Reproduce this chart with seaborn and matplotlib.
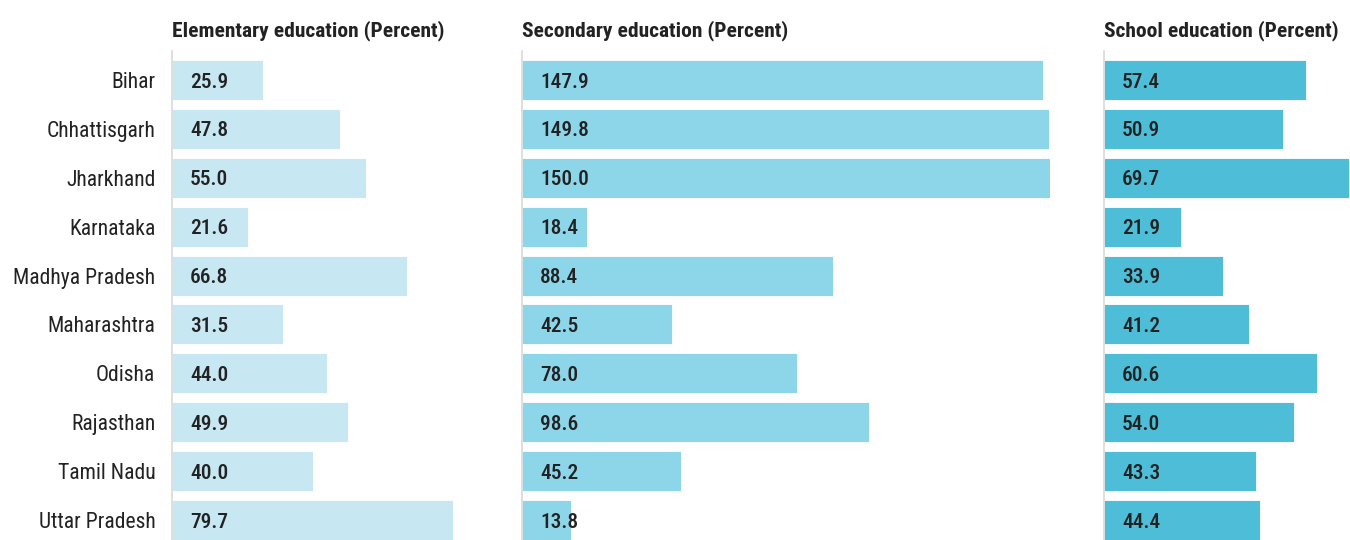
import matplotlib
matplotlib.use("Agg")
import matplotlib.pyplot as plt
from matplotlib.textpath import TextPath
from matplotlib.font_manager import FontProperties
import seaborn as sns
import pandas as pd

states = ["Bihar", "Chhattisgarh", "Jharkhand", "Karnataka", "Madhya Pradesh",
          "Maharashtra", "Odisha", "Rajasthan", "Tamil Nadu", "Uttar Pradesh"]
elementary = [25.9, 47.8, 55.0, 21.6, 66.8, 31.5, 44.0, 49.9, 40.0, 79.7]
secondary = [147.9, 149.8, 150.0, 18.4, 88.4, 42.5, 78.0, 98.6, 45.2, 13.8]
school = [57.4, 50.9, 69.7, 21.9, 33.9, 41.2, 60.6, 54.0, 43.3, 44.4]
titles = ["Elementary education (Percent)", "Secondary education (Percent)",
          "School education (Percent)"]
colors = ["#c7e7f2", "#8dd6ea", "#4ebdd7"]

sns.set_theme(style="white")
FAM = ["Roboto Condensed", "Roboto", "DejaVu Sans"]
plt.rcParams["font.family"] = FAM

W, H = 1350, 540
DPI = 100
fig = plt.figure(figsize=(W / DPI, H / DPI), dpi=DPI)


def fit_size(text, weight, target_px, max_size):
    fp = FontProperties(family=FAM, weight=weight, size=10)
    w = TextPath((0, 0), text, prop=fp).get_extents().width
    px_at10 = w * DPI / 72.0
    return min(max_size, 10 * target_px / px_at10)


label_size = fit_size("Madhya Pradesh", "normal", 139, 17)
value_size = fit_size("25.9", "medium", 36, 17)
title_size = fit_size("Elementary education (Percent)", "semibold", 270, 17)

series = [elementary, secondary, school]
scale = 3.52  # px per unit
lefts = [172, 522, 1104]
top_px, bottom_px = 51, 540
txt = "#222222"

for k, (vals, title, col, x0) in enumerate(zip(series, titles, colors, lefts)):
    xmax = max(vals)
    wpx = xmax * scale
    ax = fig.add_axes([x0 / W, 1 - bottom_px / H, wpx / W, (bottom_px - top_px) / H])
    df = pd.DataFrame({"state": states, "value": vals})
    sns.barplot(data=df, x="value", y="state", orient="h", color=col,
                width=0.82, ax=ax, edgecolor="#ffffff", linewidth=0.6,
                saturation=1)
    ax.set_xlim(0, xmax)
    ax.set_ylim(9.41, -0.594)
    ax.set_xlabel("")
    ax.set_ylabel("")
    ax.set_xticks([])
    for s in ["top", "right", "bottom"]:
        ax.spines[s].set_visible(False)
    ax.spines["left"].set_color("#d9d9d9")
    ax.spines["left"].set_linewidth(1.2)
    if k == 0:
        ax.tick_params(axis="y", length=0, pad=12, labelsize=label_size, labelcolor=txt)
    else:
        ax.set_yticklabels([])
        ax.tick_params(axis="y", length=0)
    for i, v in enumerate(vals):
        ax.annotate(f"{v:.1f}", xy=(0, i), xycoords=("axes fraction", "data"),
                    xytext=(18 * 0.72, -1.5), textcoords="offset points",
                    ha="left", va="center", fontsize=value_size, fontweight="medium",
                    color=txt)
    fig.text(x0 / W, 1 - 36 / H, title, ha="left", va="baseline",
             fontsize=title_size, fontweight="semibold", color=txt)

fig.savefig("out.png", dpi=DPI)
